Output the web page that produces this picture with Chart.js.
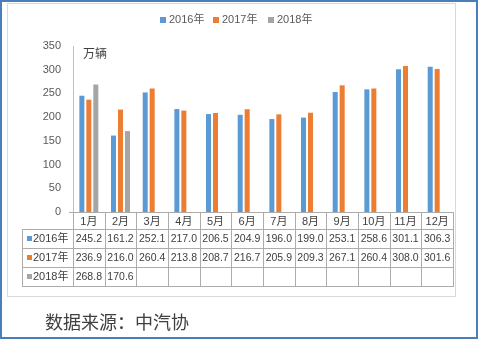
<!DOCTYPE html>
<html>
<head>
<meta charset="utf-8">
<script src="https://cdn.jsdelivr.net/npm/chart.js@4/dist/chart.umd.min.js"></script>
<style>
  html, body { margin: 0; padding: 0; background: #fff; }
  #wrap { position: relative; width: 478px; height: 339px; }
</style>
</head>
<body>
<div id="wrap"><canvas id="c" width="478" height="339"></canvas></div>
<script>
// Monthly vehicle sales (万辆), per year
const months = ['1月', '2月', '3月', '4月', '5月', '6月', '7月', '8月', '9月', '10月', '11月', '12月'];
const seriesNames = ['2016年', '2017年', '2018年'];
const sales2016 = [245.2, 161.2, 252.1, 217.0, 206.5, 204.9, 196.0, 199.0, 253.1, 258.6, 301.1, 306.3];
const sales2017 = [236.9, 216.0, 260.4, 213.8, 208.7, 216.7, 205.9, 209.3, 267.1, 260.4, 308.0, 301.6];
const sales2018 = [268.8, 170.6, null, null, null, null, null, null, null, null, null, null];
const yTicks = [0, 50, 100, 150, 200, 250, 300, 350];
const unitLabel = '万辆';
const sourceLabel = '数据来源：中汽协';

const seriesValues = [sales2016, sales2017, sales2018];
const seriesColors = ['#5B9BD5', '#ED7D31', '#A5A5A5'];
const FONT = "'Liberation Sans', 'Noto Sans CJK SC', sans-serif";
const CJK = "'Noto Sans CJK SC', sans-serif";
const axisColor = '#bfbfbf';
const tableLineColor = '#acacac';

// Frames, legend, unit label, data table and source line
const decorations = {
  id: 'decorations',
  afterDraw(chart) {
    const ctx = chart.ctx;
    const area = chart.chartArea;
    const xs = chart.scales.x;
    const catW = (area.right - area.left) / months.length;
    ctx.save();

    // inner chart frame
    ctx.strokeStyle = '#d9d9d9';
    ctx.lineWidth = 1;
    ctx.strokeRect(7.5, 3.5, 448, 293);

    // outer border
    ctx.strokeStyle = '#4a7ebb';
    ctx.lineWidth = 2;
    ctx.strokeRect(1, 1, 476, 337);

    // legend
    ctx.font = '11px ' + FONT;
    ctx.textBaseline = 'middle';
    ctx.textAlign = 'left';
    const legendX = [160, 213, 268];
    seriesNames.forEach((name, i) => {
      ctx.fillStyle = seriesColors[i];
      ctx.fillRect(legendX[i], 17, 6, 6);
      ctx.fillStyle = '#595959';
      ctx.fillText(name, legendX[i] + 9, 20);
    });

    // unit label
    ctx.font = '12px ' + CJK;
    ctx.fillStyle = '#404040';
    ctx.fillText(unitLabel, 83, 53);

    // data table
    const top = area.bottom;
    const rowTops = [top, top + 17, top + 36, top + 55, top + 74];
    const tableLeft = 22;
    const right = area.right;
    ctx.strokeStyle = tableLineColor;
    ctx.lineWidth = 1;
    ctx.beginPath();
    for (let i = 0; i <= months.length; i++) {
      const x = Math.round(area.left + i * catW) + 0.5;
      ctx.moveTo(x, top);
      ctx.lineTo(x, rowTops[4]);
    }
    ctx.moveTo(tableLeft + 0.5, rowTops[1]);
    ctx.lineTo(tableLeft + 0.5, rowTops[4]);
    for (let r = 1; r <= 4; r++) {
      ctx.moveTo(tableLeft, rowTops[r] + 0.5);
      ctx.lineTo(right + 1, rowTops[r] + 0.5);
    }
    ctx.moveTo(area.left - 4, top + 0.5);
    ctx.lineTo(right + 1, top + 0.5);
    ctx.stroke();

    ctx.textAlign = 'center';
    ctx.fillStyle = '#404040';
    ctx.font = '11px ' + FONT;
    months.forEach((m, i) => {
      ctx.fillText(m, xs.getPixelForValue(i), (rowTops[0] + rowTops[1]) / 2 + 1);
    });

    seriesValues.forEach((vals, s) => {
      const cy = (rowTops[s + 1] + rowTops[s + 2]) / 2 + 0.5;
      ctx.textAlign = 'left';
      ctx.fillStyle = seriesColors[s];
      ctx.fillRect(27, cy - 3, 5, 5);
      ctx.fillStyle = '#404040';
      ctx.font = '11px ' + FONT;
      ctx.fillText(seriesNames[s], 33, cy);
      ctx.textAlign = 'center';
      ctx.font = '10.5px ' + FONT;
      vals.forEach((v, i) => {
        if (v === null) return;
        ctx.fillText(v.toFixed(1), xs.getPixelForValue(i), cy);
      });
    });

    // source line
    ctx.textAlign = 'left';
    ctx.font = '18px ' + CJK;
    ctx.fillStyle = '#404040';
    ctx.fillText(sourceLabel, 45, 322);

    ctx.restore();
  }
};

new Chart(document.getElementById('c'), {
  type: 'bar',
  data: {
    labels: months,
    datasets: seriesNames.map((name, i) => ({
      label: name,
      data: seriesValues[i],
      backgroundColor: seriesColors[i],
      borderWidth: 0,
      categoryPercentage: 0.66,
      barPercentage: 0.72
    }))
  },
  options: {
    responsive: false,
    animation: false,
    devicePixelRatio: 1,
    layout: { padding: { left: 0, right: 25, top: 46, bottom: 127 } },
    plugins: { legend: { display: false }, tooltip: { enabled: false } },
    scales: {
      x: {
        grid: { display: false },
        border: { display: true, color: tableLineColor },
        ticks: { display: false },
        afterFit(s) { s.height = 0; }
      },
      y: {
        min: yTicks[0],
        max: yTicks[yTicks.length - 1],
        afterBuildTicks(s) { s.ticks = yTicks.map(v => ({ value: v })); },
        grid: { display: false, drawTicks: false },
        border: { display: true, color: axisColor },
        ticks: { padding: 12, color: '#595959', font: { size: 11, family: FONT } },
        afterFit(s) { s.width = 73; }
      }
    }
  },
  plugins: [decorations]
});
</script>
</body>
</html>
